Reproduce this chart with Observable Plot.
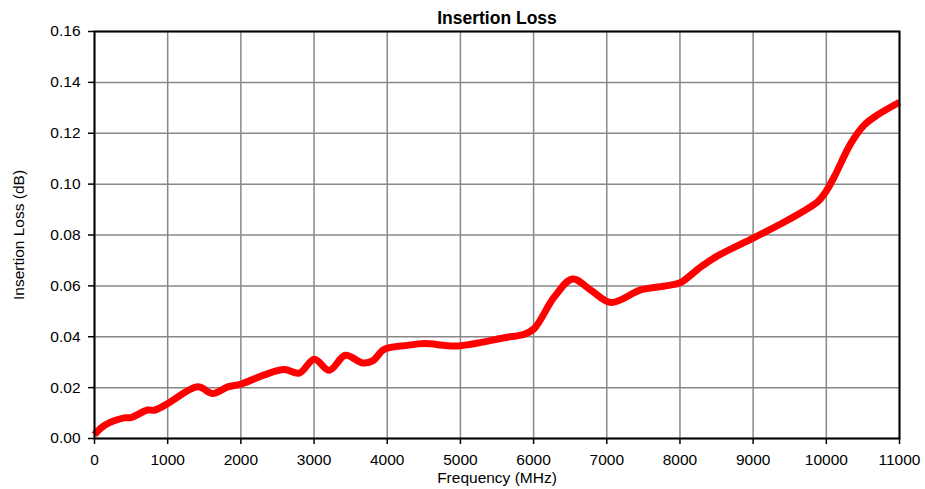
<!DOCTYPE html>
<html>
<head>
<meta charset="utf-8">
<script src="https://cdn.jsdelivr.net/npm/d3@7"></script>
<script src="https://cdn.jsdelivr.net/npm/@observablehq/plot@0.6"></script>
<style>
  html, body { margin: 0; padding: 0; background: white; }
</style>
</head>
<body>
<div id="chart"></div>
<script>
const freq = [0, 134, 407, 499, 727, 817, 1000, 1410, 1615, 1820, 2001, 2320, 2593, 2798, 3003, 3208, 3427, 3663, 3800, 3959, 4279, 4505, 4962, 5598, 5872, 6008, 6282, 6533, 6783, 7056, 7466, 7830, 8012, 8285, 8514, 9014, 9470, 9880, 9993, 10107, 10335, 10517, 10699, 11000];
const loss = [0.0015, 0.0051, 0.0081, 0.0082, 0.0112, 0.0111, 0.0137, 0.0203, 0.0177, 0.0203, 0.0214, 0.0250, 0.0271, 0.0257, 0.0312, 0.0268, 0.0327, 0.0297, 0.0305, 0.0350, 0.0366, 0.0373, 0.0364, 0.0396, 0.0410, 0.0432, 0.0556, 0.0627, 0.0583, 0.0535, 0.0584, 0.0601, 0.0614, 0.0675, 0.0718, 0.0790, 0.0858, 0.0930, 0.0970, 0.1028, 0.1160, 0.1232, 0.1272, 0.1322];
const xTicks = [0, 1000, 2000, 3000, 4000, 5000, 6000, 7000, 8000, 9000, 10000, 11000];
const yTicks = [0, 0.02, 0.04, 0.06, 0.08, 0.10, 0.12, 0.14, 0.16];
const title = "Insertion Loss";
const xLabel = "Frequency (MHz)";
const yLabel = "Insertion Loss (dB)";

const data = freq.map((f, i) => ({f, v: loss[i]}));

const chart = Plot.plot({
  width: 925,
  height: 489,
  marginTop: 31,
  marginLeft: 94,
  marginRight: 26,
  marginBottom: 51,
  style: {fontFamily: "'Liberation Sans', Arial, sans-serif", fontSize: "15px", color: "black", background: "white"},
  x: {domain: [0, 11000]},
  y: {domain: [0, 0.16]},
  marks: [
    Plot.gridX(xTicks, {stroke: "#888", strokeOpacity: 1, strokeWidth: 1.5}),
    Plot.gridY(yTicks, {stroke: "#888", strokeOpacity: 1, strokeWidth: 1.5}),
    Plot.axisX(xTicks, {tickSize: 6, tickPadding: 9, fontSize: 15.5, tickFormat: d => String(d), label: null, strokeWidth: 1.5}),
    Plot.axisX({label: xLabel, ticks: [], tickSize: 0, labelAnchor: "center", labelArrow: "none", labelOffset: 44, fontSize: 15.5}),
    Plot.axisY(yTicks, {tickSize: 6, tickPadding: 8, fontSize: 15.5, tickFormat: d3.format(".2f"), label: null, strokeWidth: 1.5}),
    Plot.axisY({label: yLabel, ticks: [], tickSize: 0, labelAnchor: "center", labelArrow: "none", labelOffset: 82, fontSize: 15.5}),
    Plot.line(data, {x: "f", y: "v", stroke: "#ff0000", strokeWidth: 7, curve: "catmull-rom", strokeLinecap: "butt"}),
    Plot.frame({stroke: "black", strokeWidth: 2}),
    Plot.text([title], {frameAnchor: "top", dy: -20, fontWeight: "bold", fontSize: 17.5, text: d => d})
  ]
});
document.getElementById("chart").appendChild(chart);
</script>
</body>
</html>
